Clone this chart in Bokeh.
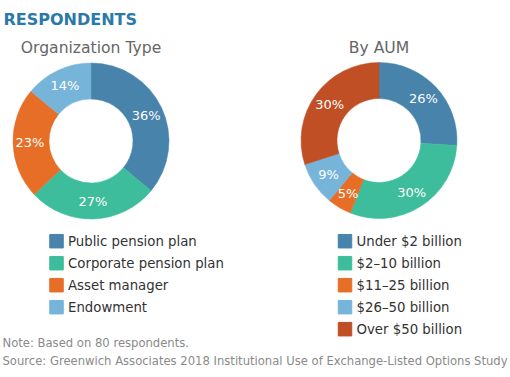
from bokeh.plotting import figure
from bokeh.models import ColumnDataSource, Range1d
from bokeh.core.properties import value
from bokeh.embed import file_html
from bokeh.resources import INLINE
import numpy as np

title = "RESPONDENTS"
org_title = "Organization Type"
org_labels = ["Public pension plan", "Corporate pension plan", "Asset manager", "Endowment"]
org_values = [36, 27, 23, 14]
org_colors = ["#4783aa", "#3dbd9b", "#e76e26", "#76b4da"]
aum_title = "By AUM"
aum_labels = ["Under $2 billion", "$2\u201310 billion", "$11\u201325 billion", "$26\u201350 billion", "Over $50 billion"]
aum_values = [26, 30, 5, 9, 30]
aum_colors = ["#4783aa", "#3dbd9b", "#e76e26", "#76b4da", "#c04f25"]
note = "Note: Based on 80 respondents."
source_txt = "Source: Greenwich Associates 2018 Institutional Use of Exchange-Listed Options Study"

W, H = 510, 377
FONT = value("DejaVu Sans")

p = figure(width=W, height=H, x_range=Range1d(0, W), y_range=Range1d(0, H),
           output_backend="svg", toolbar_location=None, min_border=0,
           x_axis_type=None, y_axis_type=None)
p.grid.visible = False
p.outline_line_color = None
p.background_fill_color = "white"


def Y(y):
    return H - y


def txt(x, y, s, size, color, align="left", style="normal"):
    p.text(x=[x], y=[Y(y)], text=[s], text_font=FONT, text_font_size=f"{size}px",
           text_color=color, text_align=align, text_baseline="middle", text_font_style=style)


def donut(cx, cy, vals, colors):
    v = np.array(vals, dtype=float)
    frac = v / v.sum()
    cum = np.concatenate([[0.0], np.cumsum(frac)])
    start = np.pi / 2 - 2 * np.pi * cum[1:]
    end = np.pi / 2 - 2 * np.pi * cum[:-1]
    mid = (start + end) / 2
    src = ColumnDataSource(dict(start=start, end=end, color=colors,
                                lx=cx + 61 * np.cos(mid), ly=Y(cy) + 61 * np.sin(mid),
                                lab=[f"{int(x)}%" for x in vals]))
    p.annular_wedge(x=cx, y=Y(cy), inner_radius=42, outer_radius=78,
                    start_angle="start", end_angle="end", direction="anticlock",
                    fill_color="color", line_color="color", line_width=0.5, source=src)
    p.text(x="lx", y="ly", text="lab", source=src, text_font=FONT, text_font_size="13px",
           text_color="white", text_align="center", text_baseline="middle",
           text_font_style="normal")


def legend(xs, xt, y0, labels, colors):
    ys = [Y(y0 + 22 * i) for i in range(len(labels))]
    src = ColumnDataSource(dict(x=[xs] * len(labels), y=ys, c=colors, t=labels,
                                tx=[xt] * len(labels)))
    p.rect(x="x", y="y", width=13.5, height=13.5, fill_color="c", line_color="c", source=src)
    p.text(x="tx", y="y", text="t", source=src, text_font=FONT, text_font_size="13.3px",
           text_color="#333333", text_align="left", text_baseline="middle")


txt(3, 18.5, title, 16, "#2b79a9", style="bold")
txt(90.5, 47.5, org_title, 15.6, "#666666", align="center")
txt(378.5, 47.5, aum_title, 15.6, "#666666", align="center")

donut(90.5, 140.5, org_values, org_colors)
donut(378.5, 140, aum_values, aum_colors)

legend(56, 67.5, 240.7, org_labels, org_colors)
legend(344.5, 356, 240.7, aum_labels, aum_colors)

txt(2, 342, note, 11.6, "#8a8a8a")
txt(2, 360, source_txt, 11.6, "#8a8a8a")

open("out.html", "w").write(file_html(p, INLINE))
